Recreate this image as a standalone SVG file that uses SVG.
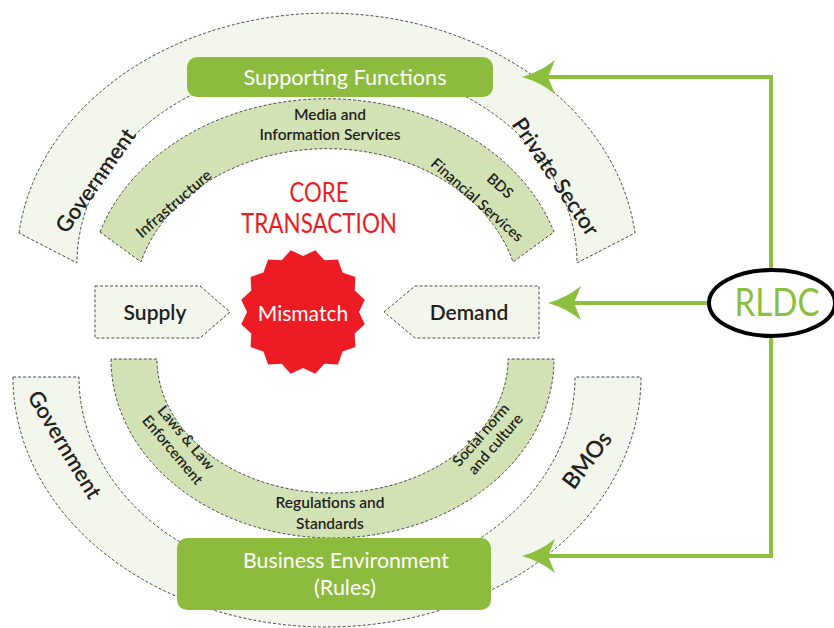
<svg xmlns="http://www.w3.org/2000/svg" width="834" height="628" viewBox="0 0 834 628">
  <defs>
    <style>
      .ring-out { fill: #f3f6ec; stroke: #333; stroke-width: 0.9; stroke-dasharray: 3 2; }
      .ring-in { fill: #d3e2b4; stroke: #333; stroke-width: 0.9; stroke-dasharray: 3 2; }
      .tag { fill: #f3f6ec; stroke: #333; stroke-width: 0.9; stroke-dasharray: 3 2; }
      .box { fill: #8cbb3e; }
      .t { font-family: Lato, "Open Sans", sans-serif; fill: #231f20; text-anchor: middle; }
      .b { font-weight: 600; }
      .w { fill: #ffffff; font-weight: 400; }
      .red { fill: #ed1c24; font-weight: 400; }
      .link { fill: none; stroke: #8dbf3f; stroke-width: 4; }
    </style>
    <marker id="arrow" markerUnits="userSpaceOnUse" markerWidth="34" markerHeight="36" viewBox="0 -18 34 36" refX="7" refY="0" orient="auto">
      <path d="M33,0 Q15,-5 0,-17 L7,0 L0,17 Q15,5 33,0 Z" fill="#8dbf3f"/>
    </marker>
  </defs>

  <rect width="834" height="628" fill="#ffffff"/>

  <!-- upper rings -->
  <g id="ring-top-outer">
    <path class="ring-out" d="M19,233 A310,248 0 0 1 635,233 L577,263 A250,200 0 0 0 77,263 Z"/>
    <text class="t b" font-size="22" transform="translate(96,181) rotate(-55)" y="7">Government</text>
    <text class="t b" font-size="22" transform="translate(555,177) rotate(56)" y="7">Private Sector</text>
  </g>
  <g id="ring-top-inner">
    <path class="ring-in" d="M100,232 A238,190.5 0 0 1 554,232 L513,262 A193,154.6 0 0 0 141,262 Z"/>
    <text class="t b" font-size="15.5" x="330" y="120">Media and</text>
    <text class="t b" font-size="15.5" x="330" y="140">Information Services</text>
    <text class="t b" font-size="15.5" transform="translate(174,204) rotate(-41)" y="5">Infrastructure</text>
    <text class="t b" font-size="15" transform="translate(500,186) rotate(41.5)" y="5">BDS</text>
    <text class="t b" font-size="15" transform="translate(477,200) rotate(41.5)" y="5">Financial Services</text>
  </g>

  <!-- lower rings -->
  <g id="ring-bottom-outer">
    <path class="ring-out" d="M13,377 A314,250 0 0 0 641,377 L575,377 A248,205 0 0 1 79,377 Z"/>
    <text class="t b" font-size="22" transform="translate(64,445) rotate(59)" y="7">Government</text>
    <text class="t b" font-size="23" transform="translate(587,460) rotate(-53)" y="8">BMOs</text>
  </g>
  <g id="ring-bottom-inner">
    <path class="ring-in" d="M111,359 A221.5,179 0 0 0 554,359 L508,359 A175.5,134 0 0 1 157,359 Z"/>
    <text class="t b" font-size="15" transform="translate(186,438) rotate(50)" y="5">Laws &amp; Law</text>
    <text class="t b" font-size="15" transform="translate(172.5,450) rotate(50)" y="5">Enforcement</text>
    <text class="t b" font-size="15.5" x="330" y="508">Regulations and</text>
    <text class="t b" font-size="15.5" x="330" y="529">Standards</text>
    <text class="t b" font-size="15" transform="translate(481,435) rotate(-49)" y="5">Social norm</text>
    <text class="t b" font-size="15" transform="translate(495.5,444) rotate(-49)" y="5">and culture</text>
  </g>

  <!-- boxes -->
  <g id="supporting-functions">
    <rect class="box" x="187" y="57" width="306" height="40" rx="10"/>
    <text class="t w" font-size="21.5" x="345" y="85" textLength="203" lengthAdjust="spacingAndGlyphs">Supporting Functions</text>
  </g>
  <g id="business-environment">
    <rect class="box" x="177" y="538" width="314" height="72" rx="10"/>
    <text class="t w" font-size="21.5" x="346" y="568" textLength="206" lengthAdjust="spacingAndGlyphs">Business Environment</text>
    <text class="t w" font-size="21.5" x="345" y="595">(Rules)</text>
  </g>

  <!-- core -->
  <g id="core-transaction">
    <text class="t red" font-size="26" x="319" y="202" textLength="59" lengthAdjust="spacingAndGlyphs">CORE</text>
    <text class="t red" font-size="26" x="319" y="233" textLength="156" lengthAdjust="spacingAndGlyphs">TRANSACTION</text>
  </g>
  <g id="supply">
    <path class="tag" d="M95,286 H200 L230,312 L200,338 H95 Z"/>
    <text class="t b" font-size="21" x="155" y="320">Supply</text>
  </g>
  <g id="demand">
    <path class="tag" d="M384,312 L415,286 H539 V338 H415 Z"/>
    <text class="t b" font-size="21" x="469" y="320">Demand</text>
  </g>
  <g id="mismatch">
    <path fill="#ed1c24" d="M303.0,256.0 L315.3,250.2 L324.4,260.3 L337.9,259.6 L342.6,272.4 L355.4,277.1 L354.7,290.6 L364.8,299.7 L359.0,312.0 L364.8,324.3 L354.7,333.4 L355.4,346.9 L342.6,351.6 L337.9,364.4 L324.4,363.7 L315.3,373.8 L303.0,368.0 L290.7,373.8 L281.6,363.7 L268.1,364.4 L263.4,351.6 L250.6,346.9 L251.3,333.4 L241.2,324.3 L247.0,312.0 L241.2,299.7 L251.3,290.6 L250.6,277.1 L263.4,272.4 L268.1,259.6 L281.6,260.3 L290.7,250.2 Z"/>
    <text class="t w" font-size="21" x="303" y="321">Mismatch</text>
  </g>

  <!-- connectors -->
  <g id="connectors">
    <path class="link" d="M771,300 V77 H548" marker-end="url(#arrow)"/>
    <path class="link" d="M710,303 H574" marker-end="url(#arrow)"/>
    <path class="link" d="M771,306 V556 H548" marker-end="url(#arrow)"/>
  </g>

  <g id="rldc">
    <ellipse cx="772" cy="303" rx="63" ry="33" fill="#ffffff" stroke="#000" stroke-width="4"/>
    <text class="t" font-size="38" x="777" y="316" style="fill:#8dbf3f" textLength="85" lengthAdjust="spacingAndGlyphs">RLDC</text>
  </g>
</svg>
